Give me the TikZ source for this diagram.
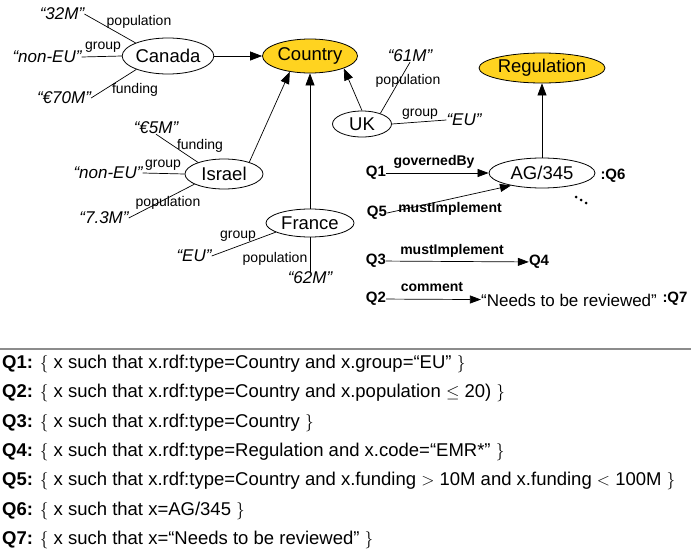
\documentclass[tikz,border=0pt]{standalone}
\usepackage{fontspec}
\setmainfont{Liberation Sans}
\usetikzlibrary{arrows.meta, shapes.geometric}
\definecolor{classgold}{HTML}{FFD320}
\definecolor{rulegray}{HTML}{8C8C8C}
\tikzset{
  entity/.style={ellipse, draw, line width=0.8pt, inner sep=0pt, font=\fontsize{18.5}{18.5}\selectfont},
  klass/.style={entity, fill=classgold},
  literal/.style={inner sep=0pt, font=\fontsize{17}{17}\selectfont\itshape},
  prop/.style={inner sep=0pt, font=\fontsize{14}{14}\selectfont},
  qprop/.style={inner sep=0pt, font=\fontsize{14}{14}\selectfont\bfseries},
  qvar/.style={inner sep=0pt, font=\fontsize{15}{15}\selectfont\bfseries},
  link/.style={line width=0.7pt},
  isa/.style={-{Triangle[length=12pt,width=9pt]}, line width=0.7pt},
  qarr/.style={-{Triangle[length=11pt,width=8pt]}, line width=0.7pt},
  query/.style={anchor=west, inner sep=0pt, font=\fontsize{18.5}{18.5}\selectfont}
}

\begin{document}
\begin{tikzpicture}[x=1pt, y=-1pt]
\useasboundingbox (0,0) rectangle (691,554);

% classes
\node[klass, minimum width=95pt, minimum height=34pt] (country) at (310,56) {Country};
\node[klass, minimum width=126pt, minimum height=30pt] (regulation) at (542,68) {Regulation};

% instances
\node[entity, minimum width=89pt, minimum height=36pt] (canada) at (168,56) {Canada};
\node[entity, minimum width=78pt, minimum height=30pt] (israel) at (224,174) {Israel};
\node[entity, minimum width=88pt, minimum height=28pt] (france) at (310,223) {France};
\node[entity, minimum width=59pt, minimum height=26pt] (uk) at (362,124) {UK};
\node[entity, minimum width=106pt, minimum height=30pt] (ag) at (542,173) {AG/345};

% literals
\node[literal] (c32) at (62,14) {“32M”};
\node[literal] (cnon) at (47,57) {“non-EU”};
\node[literal] (c70) at (64,98) {“€70M”};
\node[literal] (i5) at (156,128) {“€5M”};
\node[literal] (inon) at (108,173) {“non-EU”};
\node[literal] (i73) at (104,218) {“7.3M”};
\node[literal] (feu) at (194,256) {“EU”};
\node[literal] (f62) at (310,278) {“62M”};
\node[literal] (u61) at (410,56) {“61M”};
\node[literal] (ueu) at (464,120) {“EU”};

% type links
\draw[isa] (canada) -- (country);
\draw[isa] (israel.25) -- (country.-142);
\draw[isa] (france) -- (country);
\draw[isa] (uk.north) -- (country.-20);
\draw[isa] (ag) -- (regulation);

% properties
\draw[link] (canada.158) -- (c32.east);
\draw[link] (canada.west) -- (cnon.east);
\draw[link] (canada.203) -- (c70.east);
\node[prop] (cpop) at (139,22) {population};
\node[prop] (cgrp) at (103,47) {group};
\node[prop] (cfund) at (135,90) {funding};

\draw[link] (israel.156) -- (i5.south);
\draw[link] (israel.west) -- (inon.east);
\draw[link] (israel.199) -- (i73.east);
\node[prop] (ifund) at (200,146) {funding};
\node[prop] (igrp) at (163,165) {group};
\node[prop] (ipop) at (168,203) {population};

\draw[link] (france.195) -- (feu.east);
\draw[link] (france.south) -- (f62.north);
\node[prop] (fgrp) at (238,236) {group};
\node[prop] (fpop) at (275,259) {population};

\draw[link] (uk.30) -- (u61.south);
\draw[link] (uk.east) -- (ueu.west);
\node[prop] (upop) at (408,81) {population};
\node[prop] (ugrp) at (420,114) {group};

% query patterns
\node[qvar] (q1) at (376,173) {Q1};
\node[qvar] (q5) at (377,213) {Q5};
\node[qvar] (q3) at (376,261) {Q3};
\node[qvar] (q4) at (539,262) {Q4};
\node[qvar] (q2) at (376,299) {Q2};
\node[font=\fontsize{17}{17}\selectfont, inner sep=0pt] (needs) at (569,300) {“Needs to be reviewed”};
\node[qvar] (q6) at (613,176) {:Q6};
\node[qvar] (q7) at (675,299) {:Q7};

\draw[qarr] (q1) -- (ag);
\draw[qarr] (q5.east) -- (ag.202);
\draw[qarr] (q3) -- (q4);
\draw[qarr] (q2) -- (needs);
\node[qprop] (gov) at (434,162) {governedBy};
\node[qprop] (must1) at (450,209) {mustImplement};
\node[qprop] (must2) at (452,251) {mustImplement};
\node[qprop] (comm) at (432,287) {comment};

\foreach \dx/\dy in {576/197, 581/200, 586/203}
  \fill (\dx,\dy) circle (1.5pt);

% query definitions
\draw[rulegray, line width=1.5pt] (0,349) -- (691,349);
\node[query] (d1) at (2,364) {\textbf{Q1:} $\{$ x such that x.rdf:type=Country and x.group=“EU” $\}$};
\node[query] (d2) at (2,393.3) {\textbf{Q2:} $\{$ x such that x.rdf:type=Country and x.population $\leq$ 20) $\}$};
\node[query] (d3) at (2,422.6) {\textbf{Q3:} $\{$ x such that x.rdf:type=Country $\}$};
\node[query] (d4) at (2,451.9) {\textbf{Q4:} $\{$ x such that x.rdf:type=Regulation and x.code=“EMR*” $\}$};
\node[query] (d5) at (2,481.2) {\textbf{Q5:} $\{$ x such that x.rdf:type=Country and x.funding $>$ 10M and x.funding $<$ 100M $\}$};
\node[query] (d6) at (2,510.5) {\textbf{Q6:} $\{$ x such that x=AG/345 $\}$};
\node[query] (d7) at (2,539.8) {\textbf{Q7:} $\{$ x such that x=“Needs to be reviewed” $\}$};
\end{tikzpicture}
\end{document}
